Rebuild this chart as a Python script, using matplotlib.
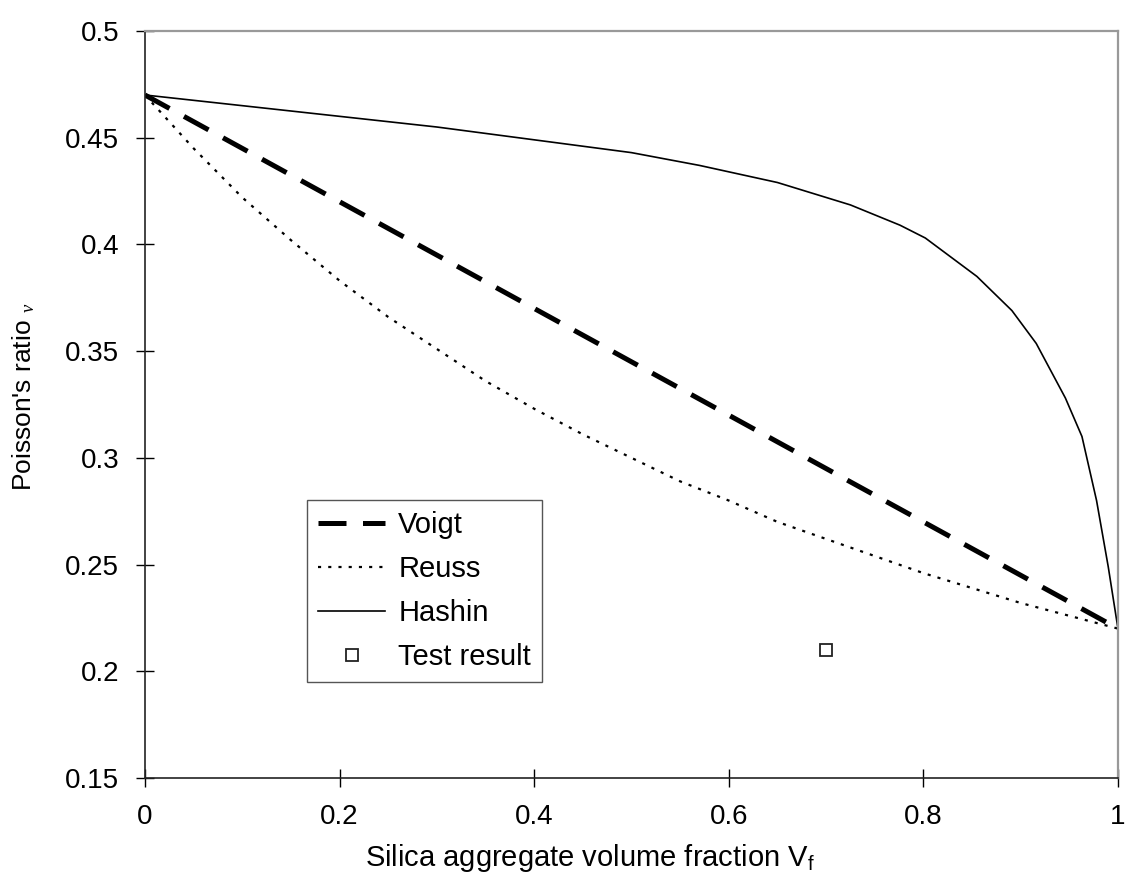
import matplotlib
matplotlib.use("Agg")
import matplotlib.pyplot as plt

plt.rcParams['font.family'] = ['Liberation Sans', 'DejaVu Sans']
plt.rcParams['mathtext.fontset'] = 'custom'
plt.rcParams['mathtext.rm'] = 'Liberation Sans'
plt.rcParams['mathtext.it'] = 'Liberation Serif:italic'

# Voigt bound
voigt_x = [0.0, 0.1, 0.2, 0.3, 0.4, 0.5, 0.6, 0.7, 0.8, 0.9, 1.0]
voigt_y = [0.47, 0.445, 0.42, 0.395, 0.37, 0.345, 0.32, 0.295, 0.27, 0.245, 0.22]

# Reuss bound
reuss_x = [0.0, 0.05, 0.1, 0.15, 0.2, 0.25, 0.3, 0.35, 0.4, 0.45, 0.5,
           0.55, 0.6, 0.65, 0.7, 0.75, 0.8, 0.85, 0.9, 0.95, 1.0]
reuss_y = [0.47, 0.445, 0.422, 0.402, 0.383, 0.366, 0.351, 0.336, 0.323, 0.311, 0.300,
           0.289, 0.280, 0.270, 0.262, 0.254, 0.246, 0.239, 0.232, 0.226, 0.22]

# Hashin bound
hashin_x = [0.0, 0.1, 0.2, 0.3, 0.4, 0.5, 0.57, 0.65, 0.725, 0.776, 0.802,
            0.855, 0.891, 0.916, 0.946, 0.963, 0.978, 0.99, 1.0]
hashin_y = [0.47, 0.465, 0.460, 0.455, 0.449, 0.443, 0.437, 0.429, 0.4185, 0.409, 0.403,
            0.385, 0.369, 0.3536, 0.328, 0.310, 0.280, 0.249, 0.22]

# test
test_x = [0.7]
test_y = [0.21]

fig = plt.figure(figsize=(11.28, 8.82), dpi=100)
ax = fig.add_axes([0.1285, 0.1179, 0.8626, 0.847])

ax.plot(voigt_x, voigt_y, color='black', lw=3.6, dashes=(5.6, 3.3),
        solid_capstyle='butt', dash_capstyle='butt', label='Voigt')
ax.plot(reuss_x, reuss_y, color='black', lw=1.6, dashes=(1.4, 3.2), label='Reuss')
ax.plot(hashin_x, hashin_y, color='black', lw=1.2, label='Hashin')
ax.plot(test_x, test_y, ls='none', marker='s', ms=8.5, mfc='white', mec='#222222',
        mew=1.3, label='Test result')

ax.set_xlim(0, 1)
ax.set_ylim(0.15, 0.5)
ax.set_xticks([0, 0.2, 0.4, 0.6, 0.8, 1])
ax.set_xticklabels(['0', '0.2', '0.4', '0.6', '0.8', '1'])
ax.set_yticks([0.15, 0.2, 0.25, 0.3, 0.35, 0.4, 0.45, 0.5])
ax.set_yticklabels(['0.15', '0.2', '0.25', '0.3', '0.35', '0.4', '0.45', '0.5'])
ax.tick_params(direction='inout', length=13, width=1, labelsize=20)
ax.tick_params(axis='y', pad=12)
ax.tick_params(axis='x', pad=12)

for s in ['left', 'bottom']:
    ax.spines[s].set_color('#222222')
    ax.spines[s].set_linewidth(1.2)
for s in ['top', 'right']:
    ax.spines[s].set_color('#999999')
    ax.spines[s].set_linewidth(1.6)

ax.set_xlabel(r"Silica aggregate volume fraction V$_\mathrm{f}$", fontsize=21)
ax.xaxis.set_label_coords(0.457, -0.085)
ax.set_ylabel(r"Poisson's ratio $_\nu$", fontsize=19)
ax.yaxis.set_label_coords(-0.111, 0.51)

leg = ax.legend(loc='lower left', bbox_to_anchor=(0.1665, 0.1285), fontsize=21,
                frameon=True, fancybox=False, edgecolor='#555555', framealpha=1,
                handlelength=2.3, handletextpad=0.45, labelspacing=0.55,
                borderpad=0.38, borderaxespad=0)
leg.get_frame().set_linewidth(1.0)

fig.savefig('out.png', dpi=100)
